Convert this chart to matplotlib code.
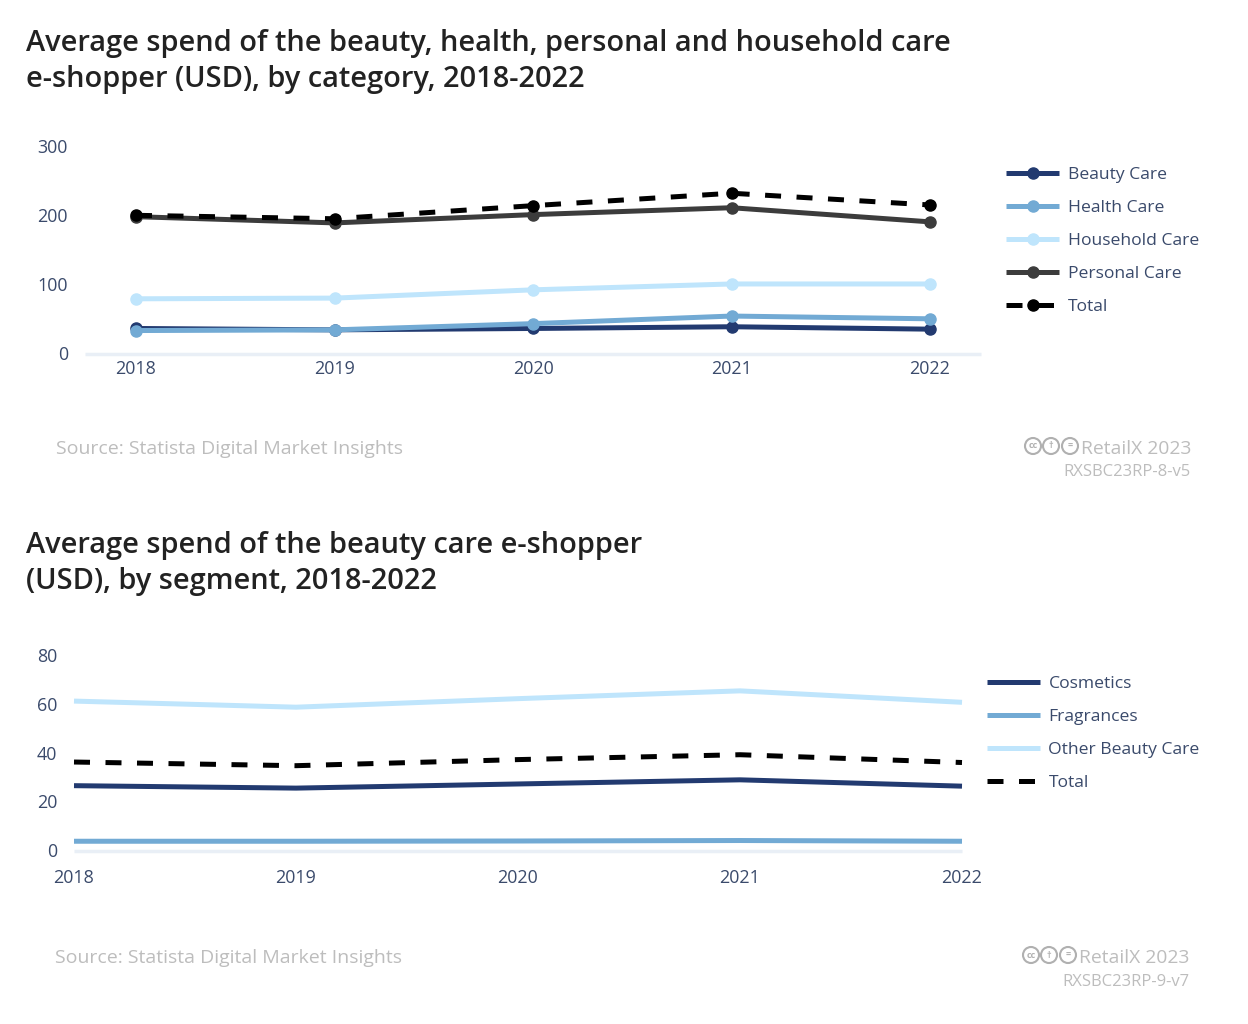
import matplotlib
matplotlib.use('Agg')
import matplotlib.pyplot as plt
from matplotlib.lines import Line2D
from matplotlib.patches import Circle
from matplotlib.transforms import ScaledTranslation

W, H = 1248, 1024
years = [2018, 2019, 2020, 2021, 2022]

beauty = [37, 35, 37, 39.5, 36]
health = [34, 35, 44, 55, 51]
household = [80, 81, 93, 101.5, 101.5]
personal = [199, 190, 202, 212, 191.5]
total1 = [201, 196, 215, 233, 216]

cosmetics = [26.8, 25.8, 27.5, 29.2, 26.6]
fragrances = [4.0, 4.0, 4.1, 4.3, 4.0]
other = [61.5, 59.0, 62.5, 65.7, 61.0]
total2 = [36.5, 35.0, 37.5, 39.5, 36.3]

NAVY, BLUE, PALE, GREY, BLACK = '#223a70', '#72aad4', '#bfe5fc', '#3c3c3c', '#000000'
TXT = '#3a4a6b'
LW = 3.6
DASH = (0, (3.2, 3.1))
plt.rcParams['font.family'] = ['Open Sans', 'DejaVu Sans']
fig = plt.figure(figsize=(W / 100, H / 100), dpi=100)

ov = fig.add_axes([0, 0, 1, 1])
ov.set_xlim(0, W); ov.set_ylim(H, 0); ov.axis('off')


def make_axes(x0, x1, ytop, ybot):
    ax = fig.add_axes([x0 / W, 1 - ybot / H, (x1 - x0) / W, (ybot - ytop) / H])
    ax.patch.set_alpha(0)
    for s in ['top', 'right', 'left']:
        ax.spines[s].set_visible(False)
    ax.spines['bottom'].set_color('#e9eff6')
    ax.spines['bottom'].set_linewidth(2.5)
    ax.spines['bottom'].set_capstyle('butt')
    ax.tick_params(length=0, labelsize=12.9, labelcolor=TXT)
    ax.set_xticks(years)
    return ax


# Chart 1
ax1 = make_axes(85, 981, 147, 354)
ax1.set_xlim(2018 - 51 / 198.5, 2022 + 51 / 198.5)
ax1.set_ylim(0, 300)
ax1.set_yticks([0, 100, 200, 300])
ax1.tick_params(axis='x', pad=4.3)
ax1.tick_params(axis='y', pad=12.4)
series1 = [('Beauty Care', beauty, NAVY), ('Health Care', health, BLUE),
           ('Household Care', household, PALE), ('Personal Care', personal, GREY)]
for name, vals, c in series1:
    ax1.plot(years, vals, color=c, lw=LW, marker='o', ms=8, clip_on=False, solid_capstyle='butt')
ax1.plot(years, total1, color=BLACK, lw=LW, ls=DASH, marker='o', ms=8, clip_on=False, dash_capstyle='butt')

# Chart 2
ax2 = make_axes(74, 962, 656, 851)
ax2.set_xlim(2018, 2022)
ax2.set_ylim(0, 80)
ax2.set_yticks([0, 20, 40, 60, 80])
ax2.tick_params(axis='x', pad=12.8)
ax2.tick_params(axis='y', pad=12)
series2 = [('Cosmetics', cosmetics, NAVY), ('Fragrances', fragrances, BLUE),
           ('Other Beauty Care', other, PALE)]
for name, vals, c in series2:
    ax2.plot(years, vals, color=c, lw=LW, clip_on=False, solid_capstyle='butt')
ax2.plot(years, total2, color=BLACK, lw=LW, ls=DASH, clip_on=False, dash_capstyle='butt')

shift = ScaledTranslation(0, 1.0 / 100, fig.dpi_scale_trans)
for ax in (ax1, ax2):
    for lab in ax.get_yticklabels():
        lab.set_transform(lab.get_transform() + shift)


def legend(x0, x1, tx, ys, entries, markers):
    for y, (name, c, dashed) in zip(ys, entries):
        kw = dict(ls=DASH) if dashed else {}
        ov.add_line(Line2D([x0, x1], [y, y], color=c, lw=LW, dash_capstyle='butt',
                           solid_capstyle='butt', **kw))
        if markers:
            ov.add_line(Line2D([(x0 + x1) / 2], [y], color=c, marker='o', ms=8))
        ov.text(tx, y, name, fontsize=12.6, color=TXT, va='center_baseline')


legend(1006, 1059, 1067.5, [173, 206, 239, 272, 305],
       [(n, c, False) for n, _, c in series1] + [('Total', BLACK, True)], True)
legend(987, 1040, 1048.5, [682, 715, 748, 781],
       [(n, c, False) for n, _, c in series2] + [('Total', BLACK, True)], False)

for y, lines in [(40, 'Average spend of the beauty, health, personal and household care'),
                 (76, 'e-shopper (USD), by category, 2018-2022'),
                 (542, 'Average spend of the beauty care e-shopper'),
                 (578, '(USD), by segment, 2018-2022')]:
    ov.text(26, y, lines, fontsize=20.93, color='#222222', weight=600, va='center_baseline')

SRC = '#bdbdbd'


def footer(sx, rx, y1, y2, code):
    ov.text(sx, y1, 'Source: Statista Digital Market Insights', fontsize=14.0, color=SRC,
            va='center_baseline', weight=500)
    ov.text(rx, y1, 'RetailX 2023', fontsize=13.9, color=SRC, ha='right', va='center_baseline', weight=500)
    ov.text(rx, y2, code, fontsize=12, color=SRC, ha='right', va='center_baseline', weight=500)
    for cx, g in zip([rx - 158, rx - 140, rx - 121], ['cc', '\u2020', '=']):
        ov.add_patch(Circle((cx, y1 - 1), 8, fc='none', ec='#b0b0b0', lw=1.5))
        ov.text(cx, y1 - 1, g, fontsize=6.5, color='#b0b0b0', ha='center', va='center', weight='bold')


footer(56, 1191, 447, 470, 'RXSBC23RP-8-v5')
footer(55, 1189, 956, 980, 'RXSBC23RP-9-v7')

fig.savefig('out.png', dpi=100)
